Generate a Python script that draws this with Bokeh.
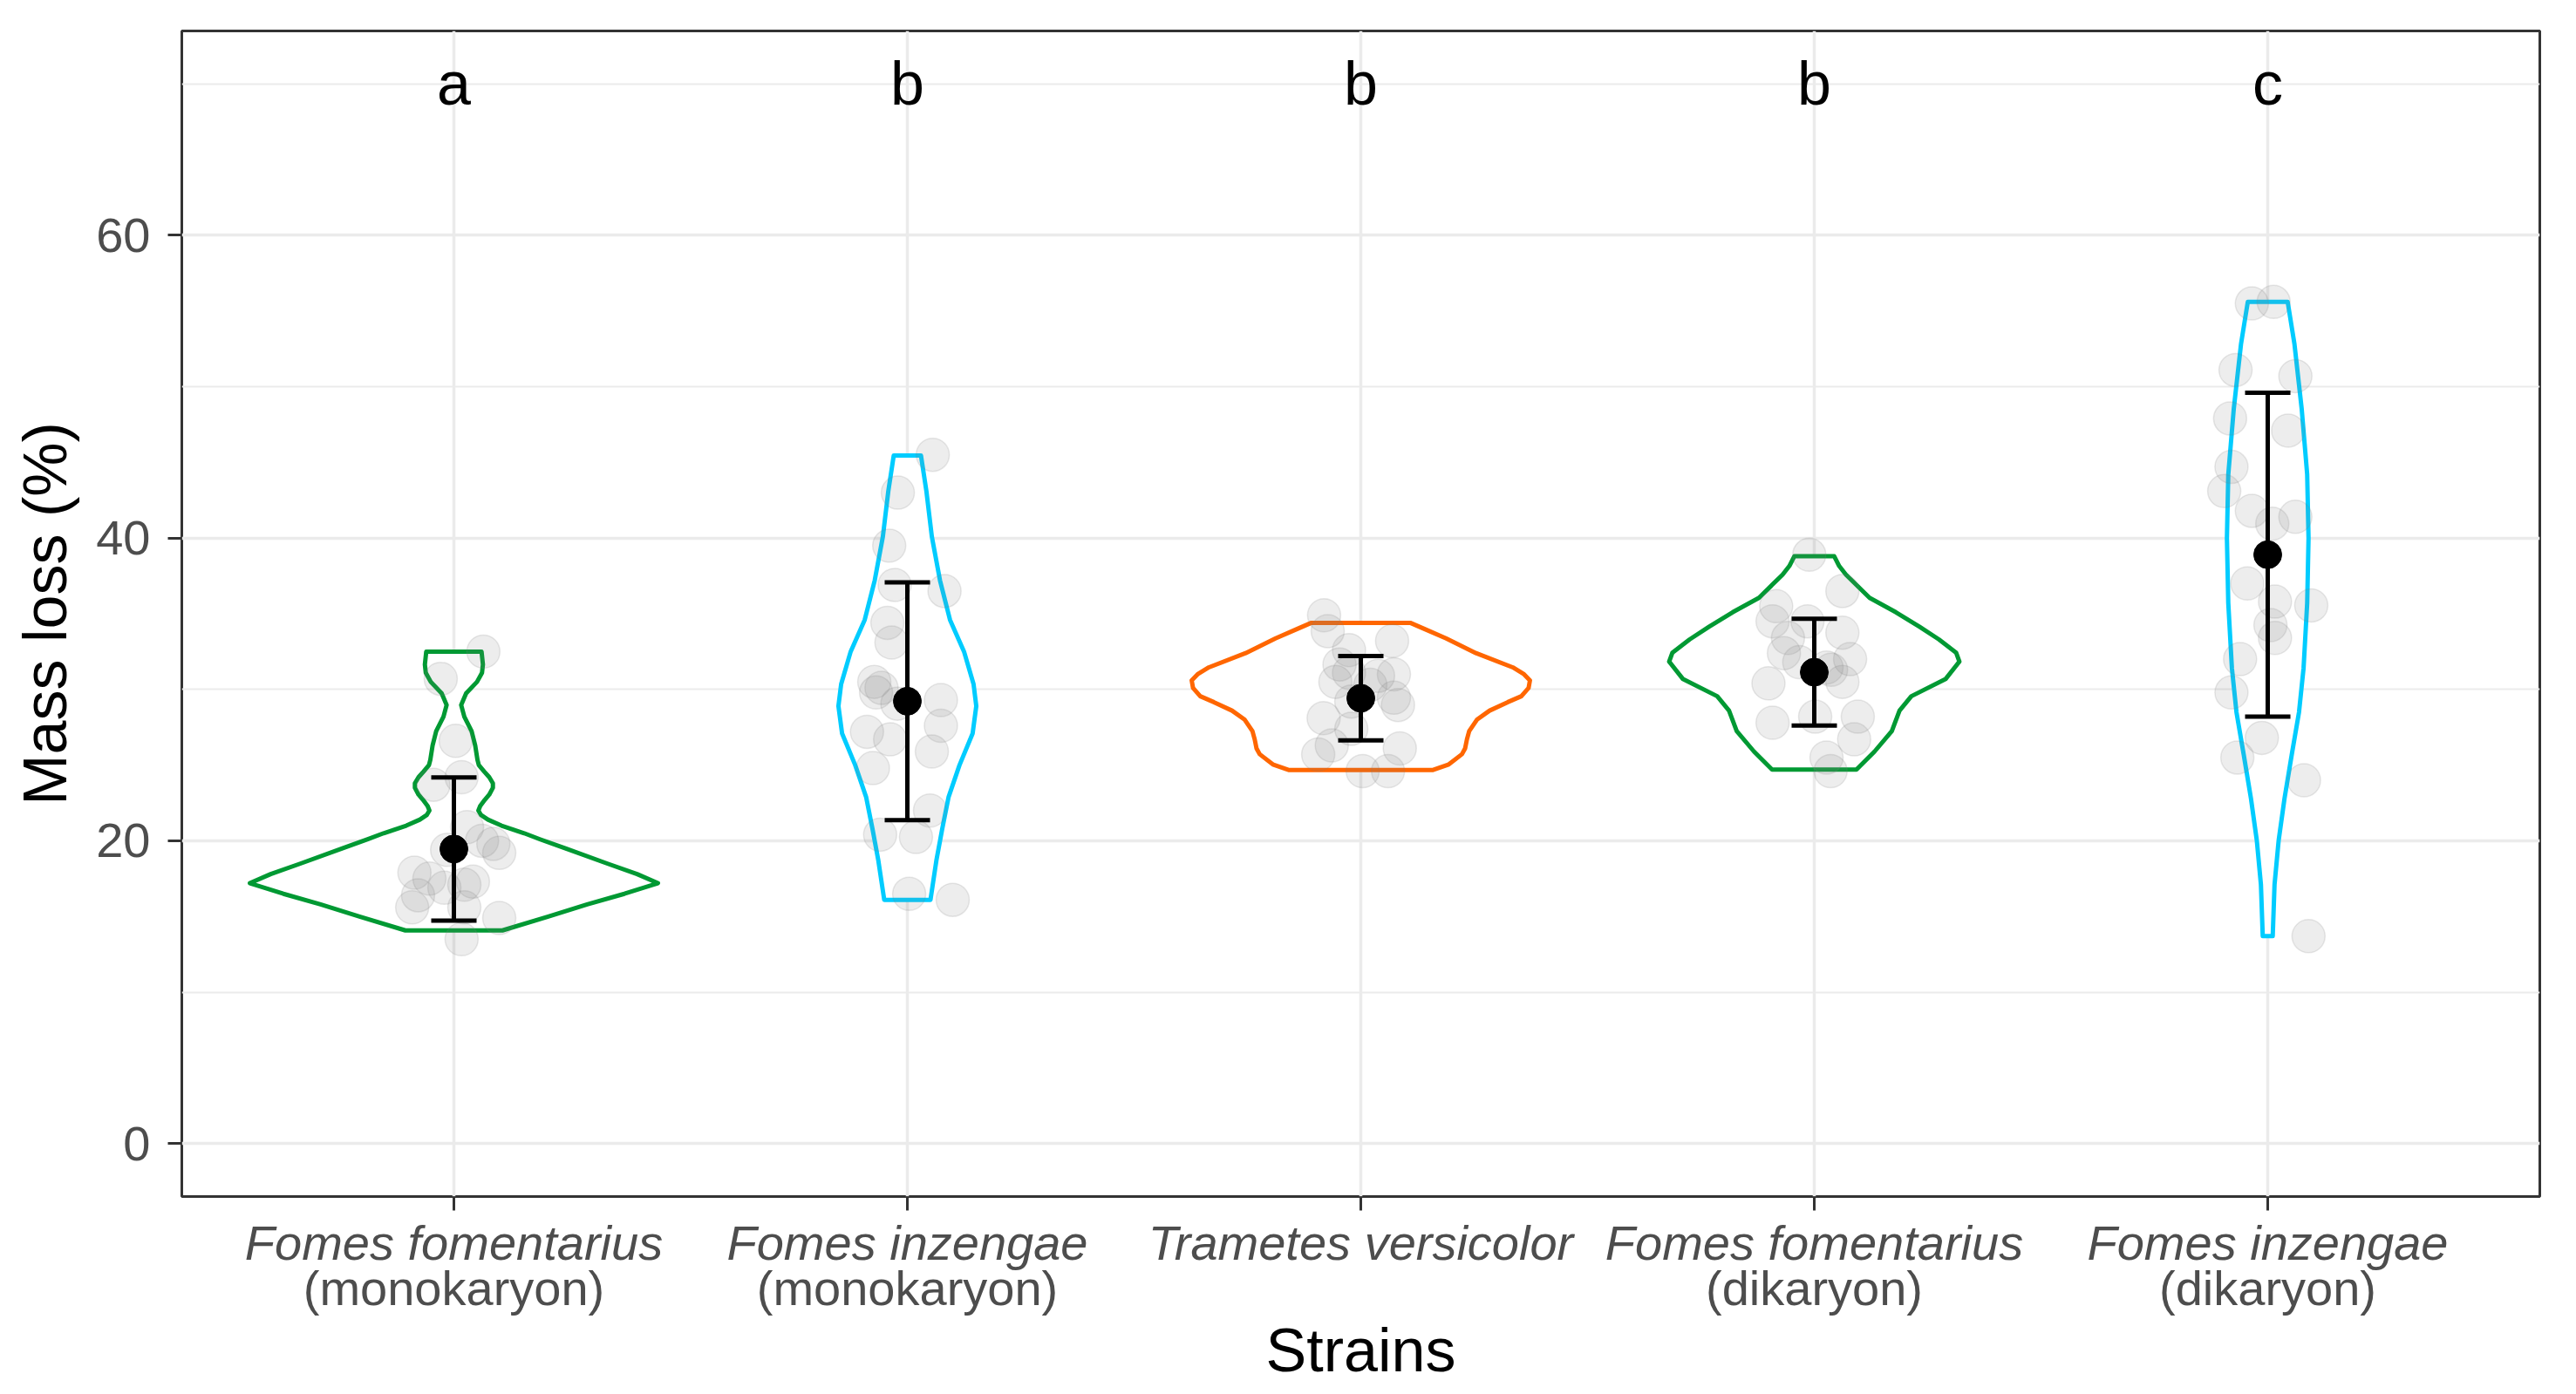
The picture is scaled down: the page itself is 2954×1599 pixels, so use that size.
import numpy as np
from bokeh.plotting import figure
from bokeh.models import ColumnDataSource, FixedTicker, LinearAxis, Range1d
from bokeh.embed import file_html
from bokeh.resources import INLINE
from bokeh.core.properties import value

# ---------------- data ----------------
species = ["Fomes fomentarius", "Fomes inzengae", "Trametes versicolor",
           "Fomes fomentarius", "Fomes inzengae"]
karyotype = ["(monokaryon)", "(monokaryon)", "", "(dikaryon)", "(dikaryon)"]
letters = ["a", "b", "b", "b", "c"]
letter_y = 70
colors = ["#009933", "#00CCFF", "#FF6600", "#009933", "#00CCFF"]

mean_loss = [19.46, 29.22, 29.42, 31.14, 38.9]
sd_loss = [4.73, 7.85, 2.78, 3.53, 10.7]

# observations (mass loss %) and their horizontal jitter (category units)
obs_g1 = [32.5, 30.7, 26.6, 24.2, 23.7, 20.9, 19.8, 19.2, 20.0, 19.4,
          17.9, 17.5, 16.9, 17.1, 17.3, 15.6, 16.4, 15.6, 14.9, 13.5]
jit_g1 = [0.065, -0.029, 0.004, 0.017, -0.045, 0.029, 0.087, 0.1, 0.062, -0.015,
          -0.087, -0.054, -0.021, 0.023, 0.042, -0.092, -0.079, 0.023, 0.1, 0.017]

obs_g2 = [45.5, 43.0, 39.5, 36.9, 36.5, 34.4, 33.1, 30.5, 30.1, 29.8, 29.06,
          29.3, 27.6, 27.2, 26.7, 25.9, 24.8, 22.0, 20.4, 20.25, 16.5, 16.1]
jit_g2 = [0.056, -0.021, -0.040, -0.028, 0.082, -0.044, -0.035, -0.073, -0.057, -0.069, -0.022,
          0.074, 0.074, -0.089, -0.038, 0.054, -0.076, 0.05, -0.06, 0.019, 0.004, 0.1]

obs_g3 = [34.9, 33.85, 33.2, 32.6, 31.65, 31.1, 30.9, 31.0, 30.5, 30.3,
          29.45, 28.97, 29.2, 28.1, 27.4, 26.3, 25.7, 26.1, 24.6, 24.6]
jit_g3 = [-0.081, -0.073, 0.069, -0.026, -0.047, -0.026, 0.038, 0.073, -0.056, 0.021,
          0.073, 0.082, -0.021, -0.082, -0.021, -0.064, -0.094, 0.086, 0.004, 0.06]

obs_g4 = [38.9, 36.5, 35.5, 34.5, 34.5, 33.75, 33.4, 32.4, 31.8, 32.0,
          31.45, 30.4, 30.5, 31.3, 27.8, 28.2, 28.2, 26.7, 25.5, 24.6]
jit_g4 = [-0.011, 0.062, -0.084, -0.092, -0.015, 0.062, -0.058, -0.067, -0.033, 0.079,
          0.027, -0.101, 0.062, 0.037, -0.092, 0.002, 0.096, 0.088, 0.027, 0.036]

obs_g5 = [55.5, 55.6, 51.1, 50.7, 47.9, 47.1, 44.7, 43.1, 41.8, 40.95, 41.4,
          37.0, 35.8, 35.55, 34.25, 33.4, 32.0, 29.8, 26.8, 25.5, 24.0, 13.7]
jit_g5 = [-0.035, 0.013, -0.071, 0.061, -0.083, 0.045, -0.080, -0.096, -0.035, 0.01, 0.061,
          -0.045, 0.016, 0.096, 0.006, 0.016, -0.061, -0.080, -0.013, -0.067, 0.080, 0.090]

# violin density profiles: level (mass loss %) and half-width (category units)
dens_y_g1 = [14.08, 15.0, 15.8, 16.5, 17.2, 17.8, 18.5, 19.5, 20.1, 20.5, 21.0, 21.4,
             21.7, 22.0, 22.3, 22.7, 23.05, 23.5, 23.8, 24.2, 24.57, 25.0, 25.34, 26.3,
             27.25, 28.2, 28.97, 29.74, 30.5, 31.1, 31.65, 32.5]
dens_w_g1 = [0.107, 0.208, 0.294, 0.376, 0.45, 0.404, 0.338, 0.246, 0.19, 0.155, 0.105, 0.075,
             0.060, 0.054, 0.058, 0.068, 0.078, 0.086, 0.086, 0.078, 0.067, 0.055, 0.052, 0.047,
             0.039, 0.023, 0.016, 0.027, 0.051, 0.062, 0.064, 0.061]

dens_y_g2 = [16.1, 18.7, 20.8, 22.9, 25.0, 27.1, 28.9, 30.35, 32.5, 34.6, 37.2, 40.1, 43.1, 45.46]
dens_w_g2 = [0.051, 0.064, 0.077, 0.091, 0.115, 0.144, 0.152, 0.146, 0.125, 0.094, 0.072, 0.054, 0.042, 0.030]

dens_y_g3 = [24.67, 25.05, 25.72, 26.1, 26.7, 27.25, 28.0, 28.6, 29.16, 29.55, 30.1, 30.6,
             31.0, 31.46, 32.4, 33.37, 34.0, 34.4]
dens_w_g3 = [0.158, 0.194, 0.223, 0.23, 0.234, 0.239, 0.256, 0.284, 0.324, 0.354, 0.370, 0.373,
             0.36, 0.335, 0.254, 0.188, 0.14, 0.109]

dens_y_g4 = [24.7, 25.9, 27.25, 28.6, 29.55, 30.7, 31.84, 32.42, 33.3, 34.14, 35.1, 36.05,
             37.58, 38.15, 38.8]
dens_w_g4 = [0.093, 0.133, 0.171, 0.188, 0.214, 0.29, 0.32, 0.313, 0.275, 0.232, 0.18, 0.122,
             0.070, 0.055, 0.044]

dens_y_g5 = [13.7, 17.1, 20.0, 22.8, 25.7, 28.5, 31.4, 35.7, 40.0, 44.2, 48.5, 52.8, 55.6]
dens_w_g5 = [0.011, 0.015, 0.024, 0.037, 0.053, 0.069, 0.079, 0.087, 0.090, 0.087, 0.075, 0.059, 0.044]

y_ticks = [0, 20, 40, 60]
y_minor = [10, 30, 50, 70]

# ---------------- figure ----------------
FONT = "Liberation Sans"
p = figure(width=2954, height=1599, output_backend="svg", toolbar_location=None,
           x_range=Range1d(0.4, 5.6), y_range=Range1d(-3.5, 73.5),
           min_border_left=208, min_border_right=42, min_border_top=35, min_border_bottom=227)
p.background_fill_color = "white"
p.border_fill_color = "white"
p.outline_line_color = "#333333"
p.outline_line_width = 3

cats = list(range(1, len(species) + 1))

# grid
p.xgrid.ticker = FixedTicker(ticks=cats)
p.ygrid.ticker = FixedTicker(ticks=y_ticks, minor_ticks=y_minor)
p.grid.grid_line_color = "#EBEBEB"
p.grid.grid_line_width = 3.5
p.ygrid.minor_grid_line_color = "#EBEBEB"
p.ygrid.minor_grid_line_width = 2

# y axis
ya = p.yaxis[0]
ya.ticker = FixedTicker(ticks=y_ticks, minor_ticks=y_minor)
ya.axis_line_color = None
ya.major_tick_out = 16
ya.major_tick_in = 0
ya.minor_tick_out = 0
ya.minor_tick_in = 0
ya.major_tick_line_width = 3
ya.major_tick_line_color = "#333333"
ya.major_label_text_font = FONT
ya.major_label_text_font_size = "56px"
ya.major_label_text_color = "#4D4D4D"
ya.major_label_standoff = 20
ya.axis_label = "Mass loss (%)"
ya.axis_label_text_font = FONT
ya.axis_label_text_font_size = "70px"
ya.axis_label_text_font_style = "normal"
ya.axis_label_text_color = "black"
ya.axis_label_standoff = 16

# x axis, first line (species, italic)
xa = p.xaxis[0]
xa.ticker = FixedTicker(ticks=cats)
xa.major_label_overrides = {c: s for c, s in zip(cats, species)}
xa.axis_line_color = None
xa.major_tick_out = 16
xa.major_tick_in = 0
xa.minor_tick_out = 0
xa.minor_tick_in = 0
xa.major_tick_line_width = 3
xa.major_tick_line_color = "#333333"
xa.major_label_text_font = FONT
xa.major_label_text_font_size = "56px"
xa.major_label_text_font_style = "italic"
xa.major_label_text_color = "#4D4D4D"
xa.major_label_standoff = 5

# x axis, second line (karyotype) + title
k_ticks = [c for c, k in zip(cats, karyotype) if k]
xa2 = LinearAxis(ticker=FixedTicker(ticks=k_ticks),
                 major_label_overrides={c: k for c, k in zip(cats, karyotype) if k})
xa2.axis_line_color = None
xa2.major_tick_line_color = None
xa2.major_tick_out = 0
xa2.major_tick_in = 0
xa2.minor_tick_out = 0
xa2.minor_tick_in = 0
xa2.major_label_text_font = FONT
xa2.major_label_text_font_size = "56px"
xa2.major_label_text_color = "#4D4D4D"
xa2.major_label_standoff = -14
xa2.axis_label = "Strains"
xa2.axis_label_text_font = FONT
xa2.axis_label_text_font_size = "70px"
xa2.axis_label_text_font_style = "normal"
xa2.axis_label_text_color = "black"
xa2.axis_label_standoff = -2
p.add_layout(xa2, "below")

# ---------------- violins ----------------
profiles = [(dens_y_g1, dens_w_g1), (dens_y_g2, dens_w_g2), (dens_y_g3, dens_w_g3),
            (dens_y_g4, dens_w_g4), (dens_y_g5, dens_w_g5)]
vxs, vys = [], []
for c, (dy, dw) in zip(cats, profiles):
    yy = np.array(dy, dtype=float)
    ww = np.array(dw, dtype=float)
    vxs.append(list(np.concatenate([c - ww, (c + ww)[::-1]])))
    vys.append(list(np.concatenate([yy, yy[::-1]])))
vsrc = ColumnDataSource(dict(xs=vxs, ys=vys, color=colors))
p.patches("xs", "ys", source=vsrc, fill_color="white", line_color="color", line_width=5,
          line_join="round")

# ---------------- jittered points ----------------
obs = [obs_g1, obs_g2, obs_g3, obs_g4, obs_g5]
jit = [jit_g1, jit_g2, jit_g3, jit_g4, jit_g5]
px, py = [], []
for c, o, j in zip(cats, obs, jit):
    px += [c + d for d in j]
    py += list(o)
p.scatter(px, py, size=38, marker="circle", fill_color="#808080", fill_alpha=0.14,
          line_color="#808080", line_alpha=0.18, line_width=1.5)

# ---------------- mean +- sd ----------------
lo = [m - s for m, s in zip(mean_loss, sd_loss)]
hi = [m + s for m, s in zip(mean_loss, sd_loss)]
cap = 0.05
p.segment(x0=cats, y0=lo, x1=cats, y1=hi, line_color="black", line_width=5)
p.segment(x0=[c - cap for c in cats], y0=hi, x1=[c + cap for c in cats], y1=hi,
          line_color="black", line_width=5)
p.segment(x0=[c - cap for c in cats], y0=lo, x1=[c + cap for c in cats], y1=lo,
          line_color="black", line_width=5)
p.scatter(cats, mean_loss, size=32, marker="circle", color="black")

# ---------------- significance letters ----------------
p.text(x=cats, y=[letter_y] * len(cats), text=letters, text_font=value(FONT),
       text_font_size="70px", text_align="center", text_baseline="middle", text_color="black")

open("out.html", "w").write(file_html(p, INLINE))
